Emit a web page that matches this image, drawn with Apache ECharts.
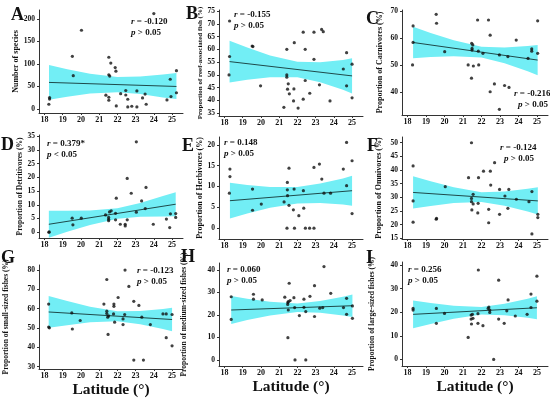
<!DOCTYPE html>
<html><head><meta charset="utf-8">
<script src="https://cdn.jsdelivr.net/npm/echarts@6/dist/echarts.min.js"></script>
<style>html,body{margin:0;padding:0;background:#fff}#c{width:550px;height:399px}</style>
</head><body><div id="c"></div>
<script>
// ---------- data ----------
const xTickValues = [18,19,20,21,22,23,24,25];
const xAxisTitle = 'Latitude (°)';

const A_title = 'Number of species';
const A_yTicks = [0,50,100,150,200];
const A_stats = ['-0.120', '> 0.05'];
const A_points = [[18.24,10.4],[18.28,25.4],[18.28,22],[19.53,117],[19.58,74],[20.03,175],[21.37,30.6],[21.53,115],[21.53,76],[21.58,73],[21.53,26],[21.53,19.4],[21.64,102],[21.88,92],[21.92,84],[21.94,6.7],[22.18,34],[22.46,41],[22.46,31],[22.57,21.6],[22.57,4.5],[22.79,6],[23.07,40],[23.07,4.5],[23.38,24.6],[23.52,33],[23.58,10.4],[24.0,212],[24.72,20],[24.9,66],[24.94,27.6],[25.24,85],[25.24,36]];
const A_fit = [[18.25,59],[25.24,50]];
const A_bandX = [18.25,19.25,20.5,22,23.25,24.5,25.24];
const A_bandUpper = [97.5,88.2,78.0,71.2,72.1,76.4,80.0];
const A_bandLower = [20.5,27.2,34.2,37.2,33.1,25.5,22.0];

const B_title = 'Proportion of reef-associated fish (%)';
const B_yTicks = [35,40,45,50,55,60,65,70,75];
const B_stats = ['-0.155', '> 0.05'];
const B_points = [[18.28,71.1],[18.28,57.2],[18.25,50.0],[19.52,61.3],[19.56,61.1],[19.98,45.7],[21.26,37.3],[21.42,60.0],[21.42,50.0],[21.42,49.1],[21.46,44.4],[21.5,46.5],[21.56,42.6],[21.81,44.5],[21.79,39.8],[21.83,62.6],[22.04,37.0],[22.32,66.7],[22.32,40.5],[22.43,60.0],[22.43,47.8],[22.68,42.8],[22.91,66.7],[22.91,56.1],[23.21,46.1],[23.33,67.8],[23.42,66.9],[23.79,39.8],[24.52,52.3],[24.7,58.7],[24.7,45.7],[25.0,54.2],[25.0,41.0]];
const B_fit = [[18.28,55.2],[25.0,49.6]];
const B_bandX = [18.28,19.25,20.5,22,23.25,24.5,25.0];
const B_bandUpper = [63.4,60.75,57.6,55.1,54.97,55.84,56.5];
const B_bandLower = [47.0,48.05,49.1,49.1,47.15,44.16,42.7];

const C_title = 'Proportion of Carnivores (%)';
const C_yTicks = [40,50,60,70];
const C_stats = ['-0.216', '> 0.05'];
const C_points = [[18.3,64.5],[18.3,58.4],[18.27,50.1],[19.55,68.8],[19.57,65.5],[20.01,55.0],[21.28,50.1],[21.46,45.2],[21.47,58.1],[21.53,57.5],[21.49,56.2],[21.49,55.6],[21.56,49.7],[21.79,66.7],[21.83,55.2],[21.85,50.1],[22.08,54.4],[22.38,66.7],[22.47,61.1],[22.47,40.2],[22.7,43.1],[22.97,53.8],[22.97,33.7],[23.25,42.5],[23.43,53.2],[23.49,41.8],[23.88,59.3],[24.52,52.5],[24.72,56.0],[24.72,55.2],[25.04,66.4],[25.04,54.4]];
const C_fit = [[18.3,58.4],[25.04,51.9]];
const C_bandX = [18.3,19.25,20.5,22,23.25,24.5,25.04];
const C_bandUpper = [64.2,61.94,59.24,56.83,56.54,57.09,57.5];
const C_bandLower = [52.6,53.02,53.32,52.83,50.72,47.75,46.3];

const D_title = 'Proportion of Detritivores (%)';
const D_yTicks = [0,5,10,15,20,25,30,35];
const D_stats = ['0.379*', '< 0.05'];
const D_points = [[18.24,0],[18.26,0.1],[19.52,5.1],[19.56,2.7],[20.02,5.1],[21.35,6.3],[21.52,5.4],[21.52,4.7],[21.52,4.2],[21.57,7.4],[21.66,7.8],[21.9,4.5],[21.9,6.9],[21.94,12.4],[22.16,2.9],[22.43,2.9],[22.43,2.3],[22.54,4.5],[22.54,19.6],[22.76,14.2],[23.04,32.9],[23.04,7.3],[23.33,11.4],[23.53,8.6],[23.57,16.3],[23.97,2.9],[24.69,4.8],[24.87,1.7],[24.91,6.7],[25.2,6.8],[25.2,5.4]];
const D_fit = [[18.24,2.9],[25.2,10.2]];
const D_bandX = [18.24,19.25,20.5,22,23.25,24.5,25.2];
const D_bandUpper = [7.8,7.78,7.89,8.74,10.65,13.19,14.6];
const D_bandLower = [-2.0,0.14,2.65,4.94,5.67,5.75,5.8];

const E_title = 'Proportion of Herbivores (%)';
const E_yTicks = [0,5,10,15,20];
const E_stats = ['0.148', '> 0.05'];
const E_points = [[18.3,14.2],[18.3,12.4],[18.27,8.4],[19.54,9.4],[19.54,4.3],[20.02,5.8],[21.27,6.3],[21.43,0],[21.45,11.0],[21.45,9.2],[21.46,7.8],[21.54,14.4],[21.54,5.5],[21.78,4.4],[21.82,9.4],[21.84,0],[22.08,3.0],[22.33,9.0],[22.35,4.8],[22.44,0],[22.67,0],[22.91,0],[22.91,14.6],[23.21,15.4],[23.34,11.8],[23.46,8.4],[23.82,8.4],[24.52,14.2],[24.7,20.6],[24.7,10.2],[25.0,16.2],[25.0,3.5]];
const E_fit = [[18.3,6.6],[25.0,9.0]];
const E_bandX = [18.3,19.25,20.5,22,23.25,24.5,25.0];
const E_bandUpper = [10.9,10.37,9.9,9.92,10.71,11.95,12.6];
const E_bandLower = [2.3,3.51,4.88,5.92,6.03,5.69,5.4];

const F_title = 'Proportion of Omnivores (%)';
const F_yTicks = [15,20,25,30,35,40,45,50];
const F_stats = ['-0.124', '> 0.05'];
const F_points = [[18.3,41.5],[18.3,28.7],[18.3,20.9],[19.55,22.0],[19.57,22.3],[20.04,33.9],[21.3,37.2],[21.46,50],[21.46,29.6],[21.46,28.4],[21.48,25.4],[21.55,31.1],[21.55,27.6],[21.84,37.2],[21.82,27.8],[21.8,24.3],[22.11,39.6],[22.39,25.6],[22.39,20.7],[22.48,39.6],[22.5,34.5],[22.71,42.7],[22.98,32.9],[22.98,23.8],[23.27,30.5],[23.43,26.0],[23.48,32.9],[23.89,29.3],[24.57,28.4],[24.73,32.1],[24.73,16.6],[25.05,23.8],[25.05,22.6]];
const F_fit = [[18.3,31.8],[25.05,28.7]];
const F_bandX = [18.3,19.25,20.5,22,23.25,24.5,25.05];
const F_bandUpper = [37.7,35.86,33.67,31.9,32.14,33.12,33.7];
const F_bandLower = [25.9,26.86,27.91,28.3,26.92,24.78,23.7];

const G_title = 'Proportion of small-sized fishes (%)';
const G_yTicks = [30,40,50,60,70,80];
const G_stats = ['-0.123', '> 0.05'];
const G_points = [[18.23,62.4],[18.23,50.5],[18.27,50.1],[19.5,57.8],[19.53,49.5],[19.96,53.9],[21.26,62.4],[21.42,75.1],[21.42,58.7],[21.42,57.5],[21.47,55.6],[21.52,56.3],[21.49,46.7],[21.79,57.3],[21.81,62.4],[21.81,61.2],[21.85,53.0],[22.04,65.8],[22.31,51.8],[22.31,54.7],[22.4,57.0],[22.42,80.0],[22.63,71.5],[22.9,63.8],[22.9,33.4],[23.18,61.7],[23.34,55.6],[23.43,33.4],[23.81,51.8],[24.5,57.3],[24.68,57.3],[24.68,45.0],[25.0,57.0],[25.0,40.8]];
const G_fit = [[18.23,58.3],[25.0,54.4]];
const G_bandX = [18.23,19.25,20.5,22,23.25,24.5,25.0];
const G_bandUpper = [66.5,63.98,61.04,58.73,58.83,59.84,60.5];
const G_bandLower = [50.1,51.44,52.94,53.53,51.99,49.54,48.3];

const H_title = 'Proportion of medium-sized fishes (%)';
const H_yTicks = [0,10,20,30,40];
const H_stats = ['0.060', '> 0.05'];
const H_points = [[18.37,28.1],[18.37,18.0],[19.59,29.2],[19.59,27.0],[20.07,26.7],[21.31,27.9],[21.47,24.7],[21.48,25.5],[21.5,25.9],[21.48,9.9],[21.5,22.2],[21.55,34.1],[21.6,26.4],[21.81,27.7],[21.85,23.3],[21.87,0],[22.11,19.7],[22.36,27.0],[22.36,23.4],[22.46,21.5],[22.46,0],[22.69,28.3],[22.94,33.0],[22.94,19.3],[23.23,23.0],[23.39,23.3],[23.46,41.5],[23.83,29.6],[24.53,23.3],[24.7,27.4],[24.7,20.3],[25.02,24.0],[25.02,18.5]];
const H_fit = [[18.37,22.2],[25.02,24.1]];
const H_bandX = [18.37,19.25,20.5,22,23.25,24.5,25.02];
const H_bandUpper = [28.4,27.18,25.84,25.14,26.25,28.13,29.1];
const H_bandLower = [16.0,17.72,19.78,21.34,20.93,19.77,19.1];

const I_title = 'Proportion of large-sized fishes (%)';
const I_yTicks = [0,10,20,30,40];
const I_stats = ['0.256', '> 0.05'];
const I_points = [[18.3,21.6],[18.3,20.9],[19.56,21.6],[19.56,15.3],[20.0,19.5],[21.28,9.3],[21.44,18.8],[21.44,17.1],[21.46,15.0],[21.51,19.1],[21.54,17.4],[21.83,37.9],[21.81,19.4],[21.81,15.3],[22.08,14.3],[22.36,21.6],[22.4,22.2],[22.45,20.9],[22.45,19.9],[22.66,0],[22.93,33.6],[22.93,17.1],[23.23,15.3],[23.37,20.6],[23.44,25.2],[23.83,18.4],[24.47,19.1],[24.68,27.7],[24.68,22.0],[25.0,35.3],[25.0,24.7]];
const I_fit = [[18.3,19.1],[25.0,21.9]];
const I_bandX = [18.3,19.25,20.5,22,23.25,24.5,25.0];
const I_bandUpper = [25.0,23.96,22.8,22.25,23.63,25.75,26.8];
const I_bandLower = [13.2,15.04,17.24,19.05,18.71,17.63,17.0];

// ---------- layout (positions / sizes / styles) ----------
const FONT = "'Liberation Serif','Times New Roman',serif";
const BAND = '#72eef5';
const layout = [
  {key:'A', grid:[39,10,144,103],  y:[-9,220],     gap:18, fs:8,   letter:[11,15], stat:[131,22]},
  {key:'B', grid:[219,10,144,106], y:[33.9,75.4],  gap:10, fs:7,   letter:[186,14], stat:[234,15]},
  {key:'C', grid:[402,10,146,105], y:[31.6,70.4],  gap:18, fs:8,   letter:[366,19], stat:[514,94]},
  {key:'D', grid:[39,135,144,103], y:[-2.1,35.4],  gap:15, fs:7.5, letter:[1,145], stat:[47,144]},
  {key:'E', grid:[219,137,144,102],y:[-2.6,21.9],  gap:15, fs:8,   letter:[182,146], stat:[224,143]},
  {key:'F', grid:[402,137,146,102],y:[14.75,52.1], gap:19, fs:8,   letter:[367,146], stat:[500,148]},
  {key:'G', grid:[39,265,144,105], y:[28.8,82.6],  gap:29, fs:7.5, letter:[1,258], stat:[137,271], xname:true},
  {key:'H', grid:[219,263,144,103],y:[-2.7,43.1],  gap:31, fs:7.5, letter:[181,257], stat:[227,270], xname:true},
  {key:'I', grid:[402,262,146,104],y:[-2.8,41.3],  gap:26, fs:7.5, letter:[366,258], stat:[408,270], xname:true}
];
const DATA = {
  A:{t:A_title,ticks:A_yTicks,s:A_stats,p:A_points,f:A_fit,bx:A_bandX,bu:A_bandUpper,bl:A_bandLower},
  B:{t:B_title,ticks:B_yTicks,s:B_stats,p:B_points,f:B_fit,bx:B_bandX,bu:B_bandUpper,bl:B_bandLower},
  C:{t:C_title,ticks:C_yTicks,s:C_stats,p:C_points,f:C_fit,bx:C_bandX,bu:C_bandUpper,bl:C_bandLower},
  D:{t:D_title,ticks:D_yTicks,s:D_stats,p:D_points,f:D_fit,bx:D_bandX,bu:D_bandUpper,bl:D_bandLower},
  E:{t:E_title,ticks:E_yTicks,s:E_stats,p:E_points,f:E_fit,bx:E_bandX,bu:E_bandUpper,bl:E_bandLower},
  F:{t:F_title,ticks:F_yTicks,s:F_stats,p:F_points,f:F_fit,bx:F_bandX,bu:F_bandUpper,bl:F_bandLower},
  G:{t:G_title,ticks:G_yTicks,s:G_stats,p:G_points,f:G_fit,bx:G_bandX,bu:G_bandUpper,bl:G_bandLower},
  H:{t:H_title,ticks:H_yTicks,s:H_stats,p:H_points,f:H_fit,bx:H_bandX,bu:H_bandUpper,bl:H_bandLower},
  I:{t:I_title,ticks:I_yTicks,s:I_stats,p:I_points,f:I_fit,bx:I_bandX,bu:I_bandUpper,bl:I_bandLower}
};

const grids=[], xAxes=[], yAxes=[], series=[], graphics=[];
const axisCol = '#333';
layout.forEach((L, i) => {
  const d = DATA[L.key];
  grids.push({left:L.grid[0], top:L.grid[1], width:L.grid[2], height:L.grid[3]});
  xAxes.push({
    type:'value', gridIndex:i, min:17.7, max:25.6,
    axisLine:{show:true, onZero:false, lineStyle:{color:axisCol, width:1}},
    axisTick:{show:true, length:2, customValues:xTickValues, lineStyle:{color:axisCol}},
    axisLabel:{customValues:xTickValues, margin:3, fontFamily:FONT, fontWeight:'bold', fontSize:8, color:'#111'},
    splitLine:{show:false},
    name: L.xname ? xAxisTitle : '', nameLocation:'middle', nameGap:13,
    nameTextStyle:{fontFamily:FONT, fontWeight:'bold', fontSize:15.5, color:'#111'}
  });
  yAxes.push({
    type:'value', gridIndex:i, min:L.y[0], max:L.y[1],
    axisLine:{show:true, onZero:false, lineStyle:{color:axisCol, width:1}},
    axisTick:{show:true, length:2, customValues:d.ticks, lineStyle:{color:axisCol}},
    axisLabel:{customValues:d.ticks, margin:4, fontFamily:FONT, fontWeight:'bold', fontSize:7.5, color:'#111'},
    splitLine:{show:false},
    name:d.t, nameLocation:'middle', nameGap:L.gap,
    nameTextStyle:{fontFamily:FONT, fontWeight:'bold', fontSize:L.fs, color:'#111'}
  });
  const bx=d.bx, bu=d.bu, bl=d.bl;
  series.push({
    type:'custom', xAxisIndex:i, yAxisIndex:i, z:1, silent:true,
    data: bx.map((x,k)=>[x, bu[k], bl[k]]),
    encode:{x:0, y:[1,2]},
    renderItem:function(params, api){
      if (params.dataIndex !== 0) return null;
      const pts=[];
      for (let k=0;k<bx.length;k++) pts.push(api.coord([bx[k], bu[k]]));
      for (let k=bx.length-1;k>=0;k--) pts.push(api.coord([bx[k], bl[k]]));
      return {type:'polygon', shape:{points:pts}, style:{fill:BAND, stroke:null}};
    }
  });
  series.push({
    type:'line', xAxisIndex:i, yAxisIndex:i, z:3, data:d.f, symbol:'none', silent:true,
    lineStyle:{color:'#1e4a4a', width:1}
  });
  series.push({
    type:'scatter', xAxisIndex:i, yAxisIndex:i, z:4, data:d.p, symbolSize:3.2, silent:true,
    itemStyle:{color:'#111'}
  });
  graphics.push({type:'text', x:L.letter[0], y:L.letter[1], z:10,
    style:{text:L.key, font:'bold 18px '+FONT, fill:'#111', verticalAlign:'middle'}});
  graphics.push({type:'text', x:L.stat[0], y:L.stat[1], z:10,
    style:{text:'{i|r} = '+d.s[0], font:'bold 9px '+FONT, fill:'#111', verticalAlign:'middle',
      rich:{i:{fontStyle:'italic', fontWeight:'bold', fontSize:9, fontFamily:FONT}}}});
  graphics.push({type:'text', x:L.stat[0] + (L.key==='C'||L.key==='F'?4:0), y:L.stat[1]+10.5, z:10,
    style:{text:'{i|p} '+d.s[1], font:'bold 9px '+FONT, fill:'#111', verticalAlign:'middle',
      rich:{i:{fontStyle:'italic', fontWeight:'bold', fontSize:9, fontFamily:FONT}}}});
});

const chart = echarts.init(document.getElementById('c'), null, {renderer:'canvas'});
chart.setOption({
  animation:false, backgroundColor:'#fff',
  grid:grids, xAxis:xAxes, yAxis:yAxes, series:series, graphic:graphics
});
</script></body></html>
